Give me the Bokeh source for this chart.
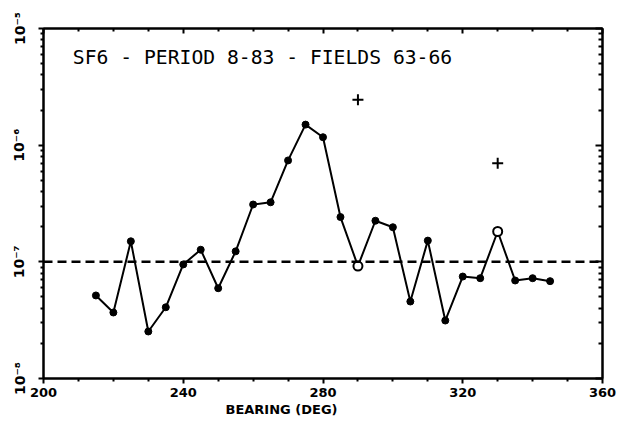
from bokeh.plotting import figure
from bokeh.models import (ColumnDataSource, FixedTicker, LinearAxis, LogAxis, Span, Label,
                          CustomJSTickFormatter, Range1d, Title)
from bokeh.embed import file_html
from bokeh.resources import INLINE

# ---- data ----
bearing = [215, 220, 225, 230, 235, 240, 245, 250, 255, 260, 265, 270, 275, 280,
           285, 290, 295, 300, 305, 310, 315, 320, 325, 330, 335, 340, 345]
concentration = [5.15e-8, 3.68e-8, 1.50e-7, 2.53e-8, 4.08e-8, 9.5e-8, 1.27e-7, 5.94e-8,
                 1.23e-7, 3.10e-7, 3.24e-7, 7.40e-7, 1.50e-6, 1.17e-6, 2.42e-7, 9.2e-8,
                 2.25e-7, 1.98e-7, 4.57e-8, 1.52e-7, 3.14e-8, 7.48e-8, 7.24e-8, 1.82e-7,
                 6.92e-8, 7.24e-8, 6.83e-8]
point_style = ["filled"] * 15 + ["open"] + ["filled"] * 7 + ["open"] + ["filled"] * 3

plus_bearing = [290, 330]
plus_value = [2.45e-6, 7.0e-7]

reference_level = 1e-7

x_ticks = [200, 240, 280, 320, 360]
x_tick_labels = ["200", "240", "280", "320", "360"]
y_ticks = [1e-8, 1e-7, 1e-6, 1e-5]
y_tick_labels = ["10\u207b\u2078", "10\u207b\u2077", "10\u207b\u2076", "10\u207b\u2075"]

title_text = "SF6 - PERIOD 8-83 - FIELDS 63-66"
x_label = "BEARING (DEG)"

# ---- figure ----
p = figure(width=621, height=426, y_axis_type="log", output_backend="svg",
           toolbar_location=None, x_range=Range1d(200, 360), y_range=Range1d(1e-8, 1e-5),
           min_border_left=43, min_border_right=19, min_border_top=28, min_border_bottom=48)
p.background_fill_color = "white"
p.border_fill_color = "white"
p.grid.visible = False
p.outline_line_color = "black"
p.outline_line_width = 2

minor_y = []
for e in range(-8, -5):
    for m in range(2, 10):
        minor_y.append(m * 10.0 ** e)
minor_x = [v for v in range(200, 361, 10) if v not in x_ticks]

ylab_fmt = CustomJSTickFormatter(args=dict(tvals=y_ticks, tlabels=y_tick_labels), code="""
let best = 0, bd = Infinity;
for (let i = 0; i < tvals.length; i++) {
  const d = Math.abs(Math.log10(tick) - Math.log10(tvals[i]));
  if (d < bd) { bd = d; best = i; }
}
return tlabels[best];
""")
empty_fmt = CustomJSTickFormatter(code="return '';")

# bottom axis
xa = p.xaxis[0]
xa.ticker = FixedTicker(ticks=x_ticks, minor_ticks=minor_x)
xa.major_label_overrides = {t: l for t, l in zip(x_ticks, x_tick_labels)}
xa.major_label_text_font = "DejaVu Sans"
xa.major_label_text_font_style = "bold"
xa.major_label_text_font_size = "13px"
xa.major_label_text_color = "black"
xa.major_tick_out = 5
xa.major_tick_in = 0
xa.minor_tick_out = 3
xa.minor_tick_in = 0
xa.major_label_standoff = 4
xa.axis_line_width = 2
xa.major_tick_line_width = 2
xa.minor_tick_line_width = 2

# left axis
ya = p.yaxis[0]
ya.ticker = FixedTicker(ticks=y_ticks, minor_ticks=minor_y)
ya.formatter = ylab_fmt
ya.major_label_orientation = "vertical"
ya.major_label_text_font = "DejaVu Sans"
ya.major_label_text_font_style = "bold"
ya.major_label_text_font_size = "14px"
ya.major_label_text_color = "black"
ya.major_tick_out = 5
ya.major_tick_in = 0
ya.minor_tick_out = 3
ya.minor_tick_in = 0
ya.major_label_standoff = 11
ya.axis_line_width = 2
ya.major_tick_line_width = 2
ya.minor_tick_line_width = 2

# top axis
ta = LinearAxis(ticker=FixedTicker(ticks=x_ticks, minor_ticks=minor_x), formatter=empty_fmt)
ta.major_tick_in = 5
ta.major_tick_out = 0
ta.minor_tick_in = 3
ta.minor_tick_out = 0
ta.axis_line_width = 2
ta.major_tick_line_width = 2
ta.minor_tick_line_width = 2
ta.major_label_text_font_size = "1px"
p.add_layout(ta, "above")

# right axis
ra = LogAxis(ticker=FixedTicker(ticks=y_ticks, minor_ticks=minor_y), formatter=empty_fmt)
ra.major_tick_in = 7
ra.major_tick_out = 0
ra.minor_tick_in = 4
ra.minor_tick_out = 0
ra.axis_line_width = 2
ra.major_tick_line_width = 2
ra.minor_tick_line_width = 2
ra.major_label_text_font_size = "1px"
p.add_layout(ra, "right")

# dashed reference line
p.add_layout(Span(location=reference_level, dimension="width", line_color="black",
                  line_width=2.5, line_dash="9 5"))

# data line and points
src = ColumnDataSource(dict(x=bearing, y=concentration, s=point_style))
p.line("x", "y", source=src, line_color="black", line_width=2)
filled = [i for i, s in enumerate(point_style) if s == "filled"]
opened = [i for i, s in enumerate(point_style) if s == "open"]
p.scatter([bearing[i] for i in filled], [concentration[i] for i in filled],
          marker="circle", size=7, fill_color="black", line_color="black")
p.scatter([bearing[i] for i in opened], [concentration[i] for i in opened],
          marker="circle", size=9, fill_color="white", line_color="black", line_width=2)
p.scatter(plus_bearing, plus_value, marker="cross", size=11, line_color="black", line_width=2)

# title inside plot
p.add_layout(Label(x=208.4, y=5.64e-6, text=title_text, text_font="DejaVu Sans Mono",
                   text_font_size="19.7px", text_color="black", text_baseline="middle",
                   text_align="left"))

# axis label below the tick labels
p.add_layout(Title(text=x_label, align="left", offset=182, text_font="DejaVu Sans",
                   text_font_style="bold", text_font_size="13px", text_color="black",
                   standoff=0), "below")

open("out.html", "w").write(file_html(p, INLINE))
